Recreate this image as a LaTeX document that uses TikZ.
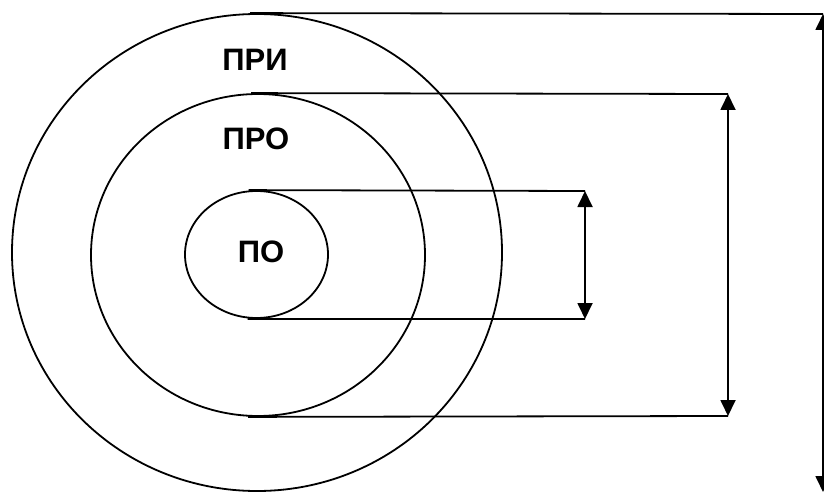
\documentclass[tikz,border=0pt]{standalone}
\usepackage{fontspec}
\setmainfont{Liberation Sans}
\usetikzlibrary{shapes.geometric,arrows.meta}
\tikzset{
  ring/.style={draw, ellipse, inner sep=0pt, line width=1.8pt},
  lead/.style={line width=1.8pt},
  span/.style={line width=1.8pt, {Triangle[length=16pt,width=15pt]}-{Triangle[length=16pt,width=15pt]}},
  tag/.style={font=\bfseries\fontsize{31}{31}\selectfont, inner sep=0pt}
}
\begin{document}
\begin{tikzpicture}[x=1pt,y=-1pt]
\useasboundingbox (0,0) rectangle (824,492);
% nested zones
\node[ring, minimum width=490pt, minimum height=477pt] (outer) at (257,252.5) {};
\node[ring, minimum width=334pt, minimum height=322pt] (mid) at (258,255) {};
\node[ring, minimum width=143pt, minimum height=127pt] (inner) at (256.5,254.5) {};
% labels
\node[tag] (tpri) at (255,60) {ПРИ};
\node[tag] (tpro) at (256,139) {ПРО};
\node[tag] (tpo) at (261,252) {ПО};
% dimension ends
\coordinate (o1) at (823,14);
\coordinate (o2) at (823,492);
\coordinate (m1) at (728,94);
\coordinate (m2) at (728,416);
\coordinate (i1) at (585,191);
\coordinate (i2) at (585,319);
% extension lines
\draw[lead] ([xshift=-7pt]outer.north) -- (o1);
\draw[lead] ([xshift=-7pt]mid.north) -- (m1);
\draw[lead] ([xshift=-10pt]mid.south) -- (m2);
\draw[lead] ([xshift=-8pt]inner.north) -- (i1);
\draw[lead] ([xshift=-9pt]inner.south) -- (i2);
% dimension arrows
\draw[span] (o1) -- (o2);
\draw[span] (m1) -- (m2);
\draw[span] (i1) -- (i2);
\end{tikzpicture}
\end{document}
